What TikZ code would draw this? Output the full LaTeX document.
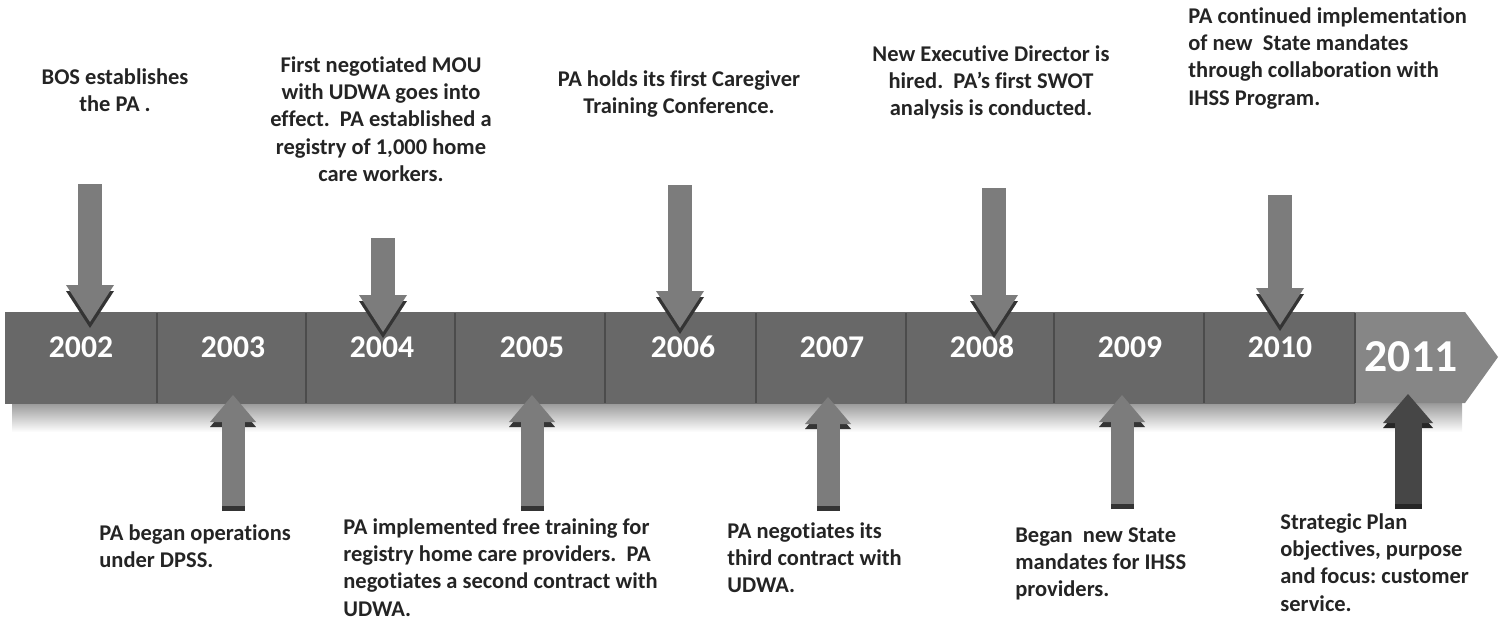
\documentclass[tikz,border=0pt]{standalone}
\usepackage{fontspec}
\setmainfont{Carlito}[Ligatures={NoCommon,NoContextual}]
\usetikzlibrary{arrows.meta}
\frenchspacing

\definecolor{barfill}{RGB}{104,104,104}
\definecolor{barlast}{RGB}{134,134,134}
\definecolor{barline}{RGB}{76,76,76}
\definecolor{arrfill}{RGB}{124,124,124}
\definecolor{arrdark}{RGB}{52,52,52}
\definecolor{arrlast}{RGB}{70,70,70}
\definecolor{evtext}{RGB}{36,36,36}

\tikzset{
  year/.style={text=white, font=\fontsize{18}{20}\selectfont\bfseries},
  event/.style={text=evtext, font=\fontsize{12.8}{15.6}\selectfont\bfseries, inner sep=0pt},
  downarr/.style={line width=4.8mm, draw=#1, -{Triangle[length=7.4mm,width=9.6mm,line width=0pt]}},
  uparr/.style={line width=4.6mm, draw=#1, -{Triangle[length=5.4mm,width=9.2mm,line width=0pt]}},
}

\begin{document}
\begin{tikzpicture}[x=0.2mm, y=-0.2mm]
  \useasboundingbox (0,0) rectangle (1502,634);

  % shadow under the bar
  \shade[top color=gray!80, bottom color=white] (12,403) rectangle (1462,432);

  % the bar
  \fill[barfill] (5,312) rectangle (1355,404);
  \fill[barlast] (1355,312) -- (1465,312) -- (1498,357) -- (1465,403) -- (1355,403) -- cycle;
  \foreach \x in {157,306,455,605,756,906,1054,1204,1355}
    \draw[barline, line width=0.45mm] (\x,313) -- (\x,403);

  % years
  \foreach \yr/\x in {2002/81,2003/233,2004/382,2005/532,2006/683,2007/832,2008/982,2009/1130,2010/1280}
    \node[year] (y\yr) at (\x,347) {\yr};
  \node[year, font=\fontsize{26}{28}\selectfont\bfseries] (y2011) at (1411,357) {2011};

  % arrows from above
  \foreach \n/\x/\top/\tip in {02/90/184/322, 04/383/238/332, 06/680/185/328, 08/994/188/332, 10/1280/195/325} {
    \coordinate (s\n) at (\x,\top);
    \coordinate (t\n) at (\x,\tip);
    \draw[downarr=arrdark] ([yshift=-1.2mm]s\n) -- ([yshift=-1.2mm]t\n);
    \draw[downarr=arrfill] (s\n) -- (t\n);
  }

  % arrows from below
  \foreach \n/\x/\bot/\tip in {03/233/506/395, 05/532/506/395, 07/828/506/397, 09/1122/504/395} {
    \coordinate (s\n) at (\x,\bot);
    \coordinate (t\n) at (\x,\tip);
    \draw[uparr=arrdark] ([yshift=-1mm]s\n) -- ([yshift=-1mm]t\n);
    \draw[uparr=arrfill] (s\n) -- (t\n);
  }
  \coordinate (s11) at (1408,504);
  \coordinate (t11) at (1408,394);
  \draw[line width=5.4mm, draw=black!85, -{Triangle[length=5.8mm,width=10mm,line width=0pt]}] ([yshift=-1mm]s11) -- ([yshift=-1mm]t11);
  \draw[line width=5.4mm, draw=arrlast, -{Triangle[length=5.8mm,width=10mm,line width=0pt]}] (s11) -- (t11);

  % events above the bar
  \node[event, align=center, anchor=north] (e02) at (115,68) {BOS establishes\\the PA .};
  \node[event, align=center, anchor=north] (e04) at (381,56) {First negotiated MOU\\with UDWA goes into\\effect.\ \ PA established a\\registry of 1,000 home\\care workers.};
  \node[event, align=center, anchor=north] (e06) at (679,70) {PA holds its first Caregiver\\Training Conference.};
  \node[event, align=center, anchor=north] (e08) at (991,45) {New Executive Director is\\hired.\ \ PA’s first SWOT\\analysis is conducted.};
  \node[event, align=left, anchor=north west] (e10) at (1188,7) {PA continued implementation\\of new\ \ State mandates\\through collaboration with\\IHSS Program.};

  % events below the bar
  \node[event, align=left, anchor=north west] (e03) at (99,524) {PA began operations\\under DPSS.};
  \node[event, align=left, anchor=north west] (e05) at (343,518) {PA implemented free training for\\registry home care providers.\ \ PA\\negotiates a second contract with\\UDWA.};
  \node[event, align=left, anchor=north west] (e07) at (727,522) {PA negotiates its\\third contract with\\UDWA.};
  \node[event, align=left, anchor=north west] (e09) at (1015,527) {Began\ \ new State\\mandates for IHSS\\providers.};
  \node[event, align=left, anchor=north west] (e11) at (1280,513) {Strategic Plan\\objectives, purpose\\and focus: customer\\service.};
\end{tikzpicture}
\end{document}
